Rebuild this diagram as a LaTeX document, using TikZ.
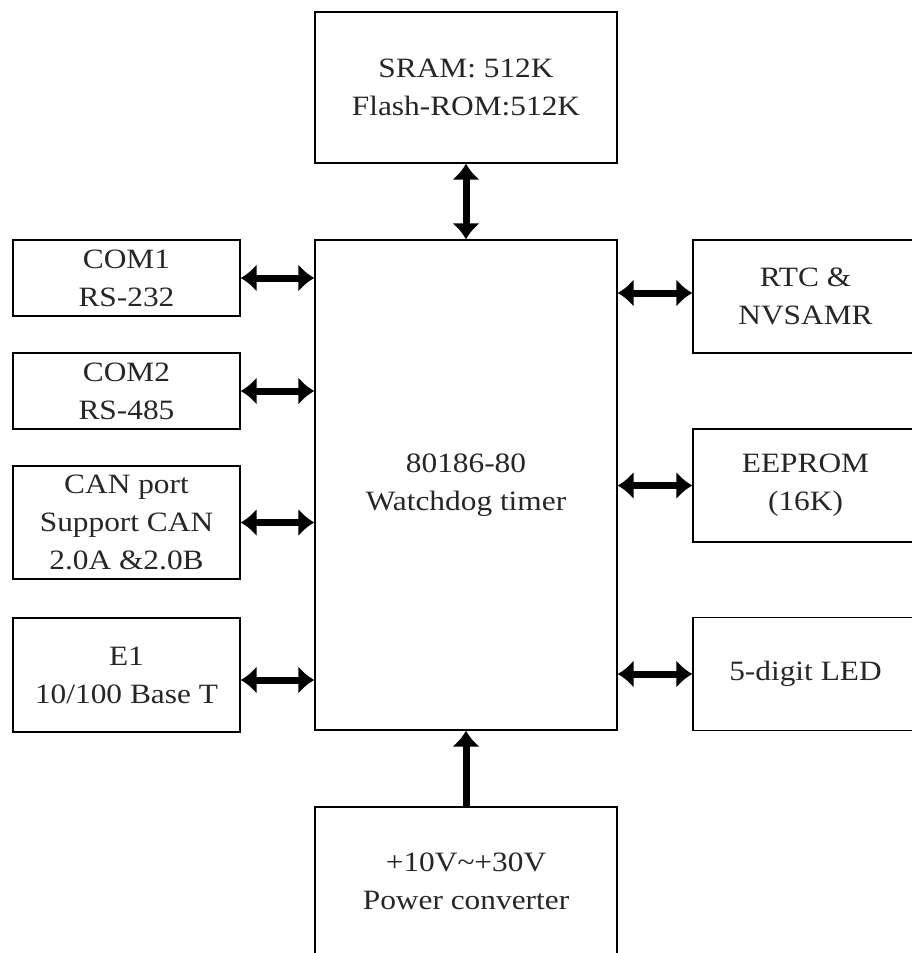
\documentclass[tikz,border=0pt]{standalone}
\usepackage{fontspec}
\setmainfont{Liberation Serif}[FakeStretch=1.12]
\usetikzlibrary{arrows.meta}
\begin{document}
\begin{tikzpicture}[x=1pt,y=-1pt,
  box/.style={draw=black, line width=1.3pt, rectangle, inner sep=0pt, align=center,
    text=black!85, font=\fontsize{28}{38}\selectfont},
  link/.style={line width=7pt, {Latex[length=16pt,width=28pt]}-{Latex[length=16pt,width=28pt]}},
  feed/.style={line width=7pt, -{Latex[length=16pt,width=28pt]}}]
\path[use as bounding box, clip] (0,0) rectangle (912,953);
% boxes
\node[box, minimum width=302pt, minimum height=151pt] (mem) at (466,87.5) {SRAM: 512K\\Flash-ROM:512K};
\node[box, minimum width=302pt, minimum height=490pt] (cpu) at (466,485) {80186-80\\Watchdog timer};
\node[box, minimum width=302pt, minimum height=148pt] (pwr) at (466,881) {+10V\textasciitilde{}+30V\\Power converter};
\node[box, minimum width=227pt, minimum height=76pt] (com1) at (126.5,278) {COM1\\RS-232};
\node[box, minimum width=227pt, minimum height=76pt] (com2) at (126.5,391) {COM2\\RS-485};
\node[box, minimum width=227pt, minimum height=113pt] (can) at (126.5,522.5) {CAN port\\Support CAN\\2.0A \&2.0B};
\node[box, minimum width=227pt, minimum height=114pt] (eth) at (126.5,675) {E1\\10/100 Base T};
\node[box, minimum width=225pt, minimum height=113pt] (rtc) at (805.5,296.5) {RTC \&\\NVSAMR};
\node[box, minimum width=225pt, minimum height=113pt] (eep) at (805.5,485.5) {EEPROM\\(16K)};
\node[box, minimum width=225pt, minimum height=113pt] (led) at (805.5,674) {5-digit LED};
% connectors
\draw[link] (mem.south) -- (cpu.north);
\draw[feed] (pwr.north) -- (cpu.south);
\draw[link] (com1.east) -- (com1.east -| cpu.west);
\draw[link] (com2.east) -- (com2.east -| cpu.west);
\draw[link] (can.east) -- (can.east -| cpu.west);
\draw[link] ([yshift=-5pt]eth.east) -- ([yshift=-5pt]eth.east -| cpu.west);
\draw[link] ([yshift=3.5pt]rtc.west) -- ([yshift=3.5pt]rtc.west -| cpu.east);
\draw[link] (eep.west) -- (eep.west -| cpu.east);
\draw[link] (led.west) -- (led.west -| cpu.east);
\end{tikzpicture}
\end{document}
